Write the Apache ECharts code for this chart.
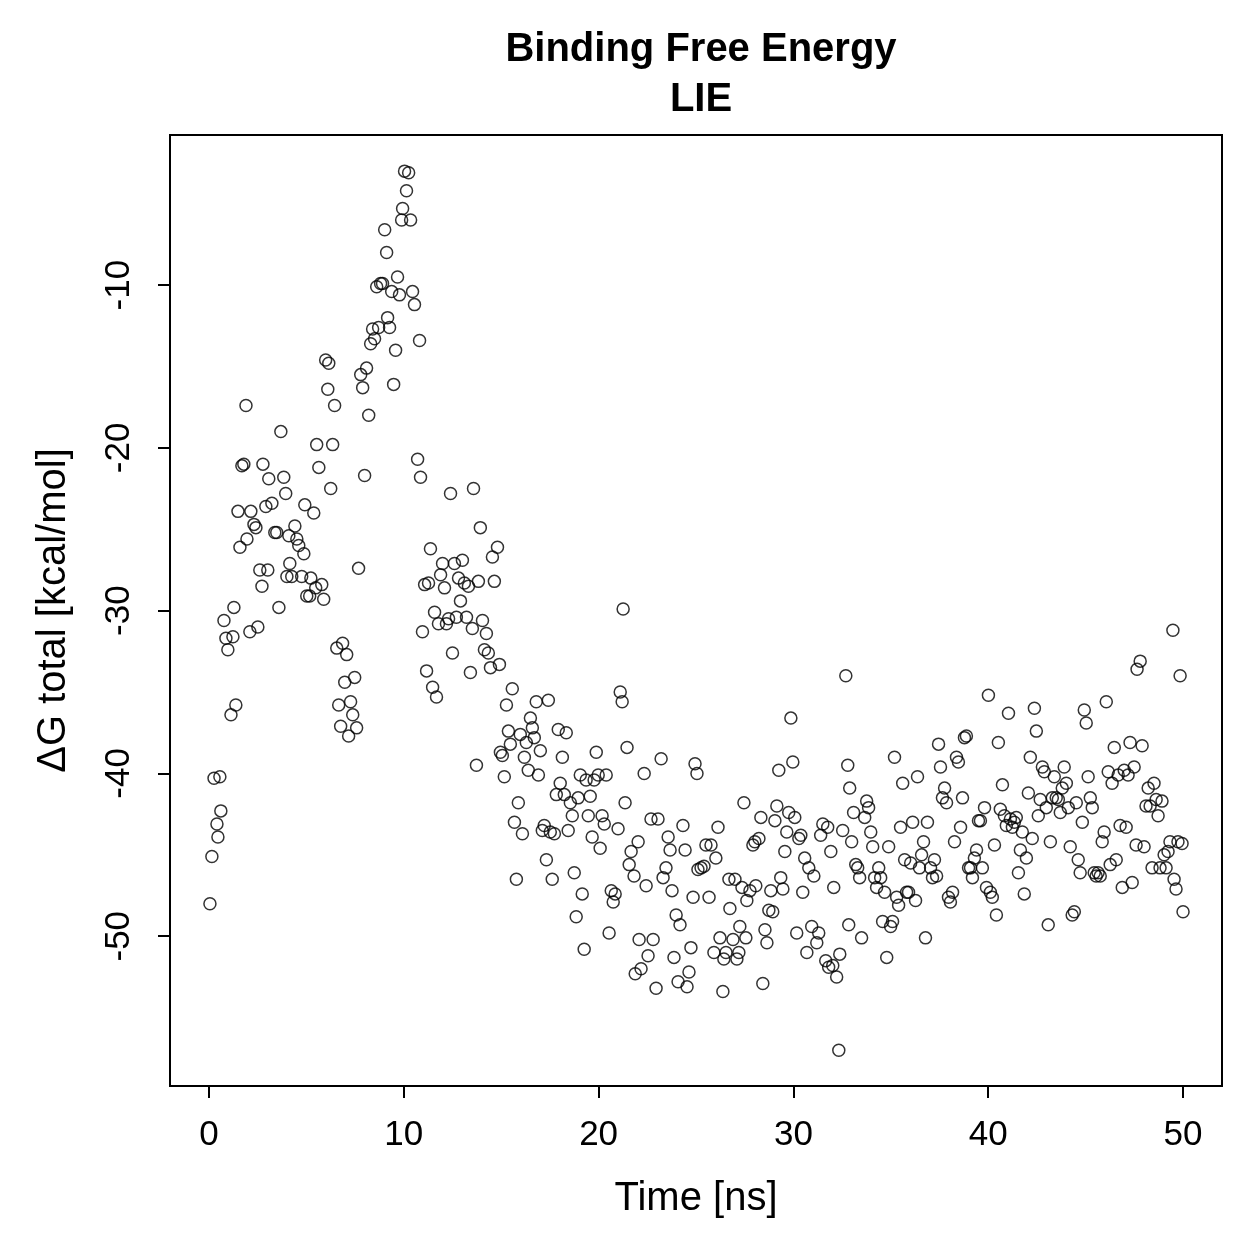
<!DOCTYPE html>
<html>
<head>
<meta charset="utf-8">
<title>Binding Free Energy - LIE</title>
<script src="https://cdn.jsdelivr.net/npm/echarts@6/dist/echarts.min.js"></script>
<style>
    html, body { margin: 0; padding: 0; background: #fff; }
    #chart { width: 1259px; height: 1259px; }
</style>
</head>
<body>
<div id="chart"></div>
<script>
// [time (ns), dG total (kcal/mol)]
let earlyPhase = [
    [0.05,-48.0],[0.15,-45.1],[0.26,-40.3],[0.41,-43.1],[0.46,-43.9],[0.56,-40.2],[0.61,-42.3],[0.77,-30.6],
    [0.87,-31.7],[0.97,-32.4],[1.13,-36.4],[1.23,-31.6],[1.28,-29.8],[1.38,-35.8],[1.49,-23.9],[1.59,-26.1],
    [1.69,-21.1],[1.79,-21.0],[1.90,-17.4],[1.95,-25.6],[2.10,-31.3],[2.15,-23.9],[2.31,-24.7],[2.41,-24.9],
    [2.51,-31.0],[2.61,-27.5],[2.72,-28.5],[2.77,-21.0],[2.92,-23.6],[3.02,-27.5],[3.07,-21.9],[3.23,-23.4],
    [3.38,-25.2],[3.48,-25.2],[3.59,-29.8],[3.69,-19.0],[3.84,-21.8],[3.94,-22.8],[4.00,-27.9],[4.10,-25.4],
    [4.15,-27.1],[4.25,-27.9],[4.41,-24.8],[4.51,-25.6],[4.61,-26.0],[4.76,-27.9],[4.87,-26.5],[4.92,-23.5],
    [5.02,-29.1],[5.17,-29.1],[5.23,-28.0],[5.38,-24.0],[5.48,-28.6],[5.53,-19.8],[5.64,-21.2],[5.79,-28.4],
    [5.89,-29.3],[5.99,-14.6],[6.10,-16.4],[6.15,-14.8],[6.25,-22.5],[6.35,-19.8],[6.45,-17.4],[6.56,-32.3],
    [6.66,-35.8],[6.76,-37.1],[6.86,-32.0],[6.97,-34.4],[7.07,-32.7],[7.17,-37.7],[7.27,-35.6],[7.38,-36.4],
    [7.48,-34.1],[7.58,-37.2],[7.68,-27.4],[7.79,-15.5],[7.89,-16.3],[7.99,-21.7],[8.09,-15.1],[8.20,-18.0],
    [8.30,-13.6],[8.40,-12.7],[8.50,-13.3],[8.61,-10.1],[8.71,-12.6],[8.81,-9.9],[8.91,-9.9],[9.02,-6.6],
    [9.12,-8.0],[9.17,-12.0],[9.27,-12.6],[9.38,-10.4],[9.48,-16.1],[9.58,-14.0],[9.68,-9.5],[9.78,-10.6],
    [9.89,-6.0],[9.94,-5.3],[10.04,-3.0],[10.14,-4.2],[10.25,-3.1],[10.35,-6.0],[10.45,-10.4],[10.55,-11.2],
    [10.71,-20.7],[10.81,-13.4],[10.86,-21.8],[10.96,-31.3],[11.07,-28.4],[11.17,-33.7],[11.27,-28.3],[11.37,-26.2],
    [11.48,-34.7],[11.58,-30.1],[11.68,-35.3],[11.78,-30.8],[11.89,-27.8],[11.99,-27.1],[12.09,-28.6],[12.19,-30.8],
    [12.30,-30.5],[12.40,-22.8],[12.50,-32.6],[12.60,-27.1],[12.70,-30.4],[12.81,-28.0],[12.91,-29.4],[13.01,-26.9],
    [13.11,-28.3],[13.22,-30.4],[13.32,-28.5],[13.42,-33.8],[13.52,-31.1],[13.58,-22.5],[13.73,-39.5],[13.83,-28.2],
    [13.93,-24.9],[14.04,-30.6],[14.14,-32.4],[14.24,-31.4],[14.34,-32.6],[14.45,-33.5],[14.55,-26.7],[14.65,-28.2],
    [14.81,-26.1],[14.91,-33.3],[14.96,-38.7]
];

let midPhase = [
    [15.06,-38.9],[15.16,-40.2],[15.27,-35.8],[15.37,-37.4],[15.47,-38.2],[15.57,-34.8],[15.68,-43.0],[15.78,-46.5],
    [15.88,-41.8],[15.98,-37.6],[16.09,-43.7],[16.19,-39.0],[16.29,-38.1],[16.39,-39.8],[16.50,-36.6],[16.60,-37.2],
    [16.70,-37.8],[16.80,-35.6],[16.91,-40.1],[17.01,-38.6],[17.11,-43.5],[17.21,-43.2],[17.32,-45.3],[17.42,-35.5],
    [17.52,-43.6],[17.62,-46.5],[17.73,-43.7],[17.83,-41.3],[17.93,-37.3],[18.03,-40.6],[18.14,-39.0],[18.24,-41.3],
    [18.34,-37.5],[18.44,-43.5],[18.55,-41.8],[18.65,-42.6],[18.75,-46.1],[18.85,-48.8],[18.95,-41.5],[19.06,-40.1],
    [19.16,-47.4],[19.26,-50.8],[19.36,-40.4],[19.47,-42.6],[19.57,-41.4],[19.67,-43.9],[19.77,-40.4],[19.88,-38.7],
    [19.98,-40.1],[20.08,-44.6],[20.18,-42.6],[20.29,-43.1],[20.39,-40.1],[20.54,-49.8],[20.65,-47.2],[20.75,-47.9],
    [20.85,-47.4],[21.00,-43.4],[21.11,-35.0],[21.21,-35.6],[21.26,-29.9],[21.36,-41.8],[21.46,-38.4],[21.57,-45.6],
    [21.67,-44.8],[21.82,-46.3],[21.88,-52.3],[22.03,-44.2],[22.08,-50.2],[22.18,-52.0],[22.34,-40.0],[22.44,-46.9],
    [22.54,-51.2],[22.69,-42.8],[22.80,-50.2],[22.95,-53.2],[23.05,-42.8],[23.21,-39.1],[23.31,-46.4],[23.46,-45.8],
    [23.57,-43.9],[23.67,-44.7],[23.77,-47.2],[23.87,-51.3],[23.98,-48.7],[24.08,-52.8],[24.18,-49.3],[24.33,-43.2],
    [24.44,-44.7],[24.54,-53.1],[24.64,-52.2],[24.74,-50.7],[24.85,-47.6],[24.95,-39.4],[25.05,-40.0],[25.10,-45.9],
    [25.26,-45.8],[25.41,-45.7],[25.51,-44.4],[25.67,-47.6],[25.77,-44.4],[25.92,-51.0],[26.02,-45.2],[26.13,-43.3],
    [26.23,-50.1],[26.38,-53.4],[26.43,-51.4],[26.54,-51.0],[26.69,-46.5],[26.74,-48.3],[26.90,-50.2],[27.00,-46.5],
    [27.10,-51.4],[27.20,-51.0],[27.25,-49.4],[27.36,-47.0],[27.46,-41.8],[27.56,-50.1],[27.61,-47.8],[27.77,-47.2],
    [27.92,-44.4],[28.02,-44.2],[28.07,-46.9],[28.23,-44.0],[28.33,-42.7],[28.43,-52.9],[28.54,-49.6],[28.64,-50.4],
    [28.74,-48.4],[28.84,-47.2],[28.94,-48.5],[29.05,-42.9],[29.15,-42.0],[29.25,-39.8],[29.35,-46.4],[29.46,-47.1],
    [29.56,-44.8],[29.66,-43.6],[29.76,-42.4],[29.87,-36.6],[29.97,-39.3]
];

let latePhase = [
    [30.07,-42.7],[30.17,-49.8],[30.28,-44.0],[30.38,-43.8],[30.48,-47.3],[30.58,-45.2],[30.69,-51.0],[30.79,-45.8],
    [30.94,-49.4],[31.05,-46.3],[31.20,-50.4],[31.30,-49.8],[31.40,-43.8],[31.51,-43.1],[31.66,-51.5],[31.76,-43.3],
    [31.81,-51.9],[31.92,-44.8],[32.02,-51.8],[32.07,-47.0],[32.22,-52.5],[32.33,-57.0],[32.38,-51.1],[32.53,-43.5],
    [32.69,-34.0],[32.79,-39.5],[32.84,-49.3],[32.89,-40.9],[32.99,-44.2],[33.09,-42.4],[33.20,-45.6],[33.30,-45.8],
    [33.40,-46.4],[33.50,-50.1],[33.66,-42.7],[33.76,-41.7],[33.86,-42.1],[33.97,-43.6],[34.07,-44.5],[34.17,-46.4],
    [34.27,-47.0],[34.38,-45.8],[34.48,-46.4],[34.58,-49.1],[34.68,-47.3],[34.79,-51.3],[34.89,-44.5],[34.99,-49.4],
    [35.09,-49.1],[35.19,-39.0],[35.30,-47.6],[35.40,-48.1],[35.50,-43.3],[35.61,-40.6],[35.71,-45.3],[35.81,-47.3],
    [35.91,-47.3],[36.02,-45.5],[36.12,-43.0],[36.27,-47.8],[36.37,-40.2],[36.47,-45.8],[36.58,-45.0],[36.68,-44.2],
    [36.78,-50.1],[36.88,-43.0],[37.04,-45.8],[37.14,-46.4],[37.24,-45.3],[37.35,-46.3],[37.45,-38.2],[37.55,-39.6],
    [37.65,-41.5],[37.76,-40.9],[37.86,-41.8],[37.96,-47.6],[38.06,-47.9],[38.17,-47.3],[38.27,-44.2],[38.37,-39.0],
    [38.47,-39.3],[38.58,-43.3],[38.68,-41.5],[38.78,-37.8],[38.88,-37.7],[38.99,-45.8],[39.09,-45.8],[39.19,-46.4],
    [39.29,-45.2],[39.40,-44.7],[39.50,-42.9],[39.60,-42.9],[39.70,-45.8],[39.81,-42.1],[39.91,-47.0],[40.01,-35.2],
    [40.11,-47.3],[40.21,-47.6],[40.32,-44.4],[40.42,-48.7],[40.52,-38.1],[40.62,-42.2],[40.73,-40.7],[40.83,-42.6],
    [40.93,-43.2],[41.04,-36.3],[41.14,-42.8],[41.24,-43.3],[41.34,-43.0],[41.44,-42.7],[41.55,-46.1],[41.65,-44.7],
    [41.75,-43.6],[41.85,-47.4],[41.96,-45.2],[42.06,-41.2],[42.16,-39.0],[42.26,-44.0],[42.37,-36.0],[42.47,-37.4],
    [42.57,-42.6],[42.67,-41.6],[42.78,-39.6],[42.88,-39.9],[42.98,-42.1],[43.08,-49.3],[43.19,-44.2],[43.29,-41.5],
    [43.39,-40.2],[43.49,-41.5],[43.60,-41.6],[43.70,-42.4],[43.80,-40.9],[43.90,-39.6],[44.01,-40.6],[44.11,-42.1],
    [44.21,-44.5],[44.31,-48.7],[44.42,-48.5],[44.52,-41.8],[44.62,-45.3],[44.72,-46.1],[44.83,-43.0],[44.93,-36.1],
    [45.03,-36.9],[45.13,-40.2],[45.24,-41.5],[45.34,-42.1],[45.44,-46.1],[45.54,-46.3],[45.64,-46.1],[45.75,-46.3],
    [45.85,-44.2],[45.95,-43.6],[46.06,-35.6],[46.16,-39.9],[46.26,-45.6],[46.36,-40.6],[46.47,-38.4],[46.57,-45.3],
    [46.67,-40.1],[46.77,-43.2],[46.88,-47.0],[46.98,-39.8],[47.08,-43.3],[47.18,-40.1],[47.28,-38.1],[47.39,-46.7],
    [47.49,-39.6],[47.59,-44.4],[47.64,-33.6],[47.80,-33.1],[47.90,-38.3],[48.00,-44.5],[48.10,-42.0],[48.21,-40.9],
    [48.31,-42.0],[48.41,-45.8],[48.51,-40.6],[48.62,-41.6],[48.72,-42.6],[48.82,-45.8],[48.92,-41.7],[49.03,-45.0],
    [49.13,-45.8],[49.23,-44.8],[49.33,-44.2],[49.48,-31.2],[49.54,-46.5],[49.64,-47.1],[49.74,-44.2],[49.85,-34.0],
    [49.95,-44.3],[50.00,-48.5]
];

let timeTicks = [0, 10, 20, 30, 40, 50];
let energyTicks = [-50, -40, -30, -20, -10];

let chart = echarts.init(document.getElementById('chart'));
let fontFamily = '"Liberation Sans", Arial, Helvetica, sans-serif';

// plot box and axis ranges
let box = { left: 170, top: 135, width: 1052, height: 951 };
let xRange = [-2, 52];
let yRange = [-59.2, -0.78];
let tickLength = 12;
let tickStep = 10;

// thin strips outside the box that carry the tick marks as split lines
let xFirst = timeTicks[0], xLast = timeTicks[timeTicks.length - 1];
let yFirst = energyTicks[0], yLast = energyTicks[energyTicks.length - 1];
let xScale = box.width / (xRange[1] - xRange[0]);
let yScale = box.height / (yRange[1] - yRange[0]);
let xStrip = {
    left: box.left + (xFirst - xRange[0]) * xScale,
    top: box.top + box.height,
    width: (xLast - xFirst) * xScale,
    height: tickLength
};
let yStrip = {
    left: box.left - tickLength,
    top: box.top + (yRange[1] - yLast) * yScale,
    width: tickLength,
    height: (yLast - yFirst) * yScale
};
let tickLine = { show: true, lineStyle: { color: '#000', width: 2, type: 'solid' } };
let hiddenAxis = {
    type: 'value', min: 0, max: 1,
    axisLine: { show: false }, axisTick: { show: false },
    axisLabel: { show: false }, splitLine: { show: false }
};

let options = {
    animation: false,
    title: {
        text: 'Binding Free Energy\nLIE',
        left: 696,
        top: 20,
        textAlign: 'center',
        textStyle: {
            fontFamily: fontFamily,
            fontSize: 40,
            fontWeight: 'bold',
            lineHeight: 50,
            color: '#000'
        }
    },
    grid: [
        {
            left: box.left,
            top: box.top,
            width: box.width,
            height: box.height,
            show: true,
            borderColor: '#000',
            borderWidth: 2
        },
        xStrip,
        yStrip
    ],
    xAxis: [
        {
            gridIndex: 0,
            type: 'value',
            min: xRange[0],
            max: xRange[1],
            axisLine: { onZero: false, lineStyle: { color: '#000', width: 2 } },
            axisTick: { show: false },
            splitLine: { show: false },
            name: 'Time [ns]',
            nameLocation: 'middle',
            nameGap: 93,
            nameTextStyle: { fontFamily: fontFamily, fontSize: 40, color: '#000' },
            axisLabel: {
                customValues: timeTicks,
                margin: 32,
                fontFamily: fontFamily,
                fontSize: 35,
                color: '#000'
            }
        },
        {
            gridIndex: 1,
            type: 'value',
            min: xFirst,
            max: xLast,
            interval: tickStep,
            axisLine: { show: false },
            axisTick: { show: false },
            axisLabel: { show: false },
            splitLine: tickLine
        },
        Object.assign({ gridIndex: 2 }, hiddenAxis)
    ],
    yAxis: [
        {
            gridIndex: 0,
            type: 'value',
            min: yRange[0],
            max: yRange[1],
            axisLine: { onZero: false, lineStyle: { color: '#000', width: 2 } },
            axisTick: { show: false },
            splitLine: { show: false },
            name: 'ΔG total [kcal/mol]',
            nameLocation: 'middle',
            nameGap: 96,
            nameTextStyle: { fontFamily: fontFamily, fontSize: 40, color: '#000' },
            axisLabel: {
                customValues: energyTicks,
                rotate: 90,
                margin: 33,
                fontFamily: fontFamily,
                fontSize: 35,
                color: '#000'
            }
        },
        Object.assign({ gridIndex: 1 }, hiddenAxis),
        {
            gridIndex: 2,
            type: 'value',
            min: yFirst,
            max: yLast,
            interval: tickStep,
            axisLine: { show: false },
            axisTick: { show: false },
            axisLabel: { show: false },
            splitLine: tickLine
        }
    ],
    series: [
        {
            name: 'LIE',
            type: 'scatter',
            xAxisIndex: 0,
            yAxisIndex: 0,
            symbol: 'circle',
            symbolSize: 12,
            itemStyle: {
                color: 'rgba(255,255,255,0)',
                borderColor: '#000',
                borderWidth: 1.5
            },
            data: earlyPhase.concat(midPhase, latePhase)
        }
    ]
};

chart.setOption(options);
</script>
</body>
</html>
